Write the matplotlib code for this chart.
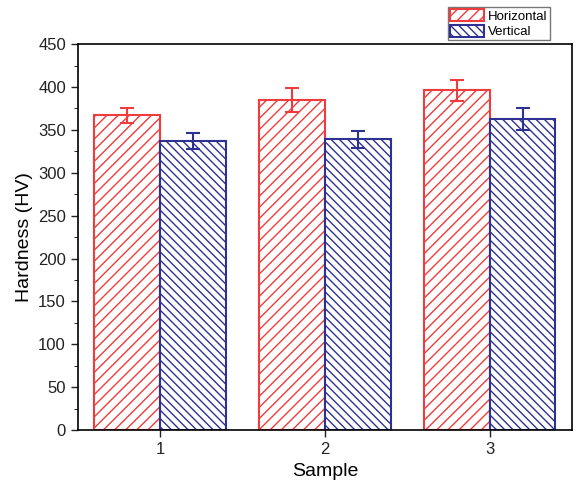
import numpy as np
import matplotlib
matplotlib.use("Agg")
import matplotlib.pyplot as plt

samples = ["1", "2", "3"]
horizontal = [367, 385, 396]
horizontal_err = [9, 14, 12]
vertical = [337, 339, 363]
vertical_err = [9, 10, 13]

plt.rcParams['font.family'] = ['Liberation Sans', 'DejaVu Sans']
plt.rcParams['hatch.linewidth'] = 1.0

fig = plt.figure(figsize=(5.76, 4.95), dpi=100)
ax = fig.add_axes([0.135, 0.131, 0.858, 0.78])

x = np.arange(1, len(samples) + 1)
w = 0.4
red = '#f03c3c'
blue = '#2e3192'

ax.bar(x - w / 2, horizontal, w, yerr=horizontal_err, facecolor='white', edgecolor=red,
       hatch='///', linewidth=1.5, label='Horizontal',
       error_kw=dict(ecolor=red, elinewidth=1.5, capsize=5, capthick=1.5))
ax.bar(x + w / 2, vertical, w, yerr=vertical_err, facecolor='white', edgecolor=blue,
       hatch='\\\\\\\\', linewidth=1.5, label='Vertical',
       error_kw=dict(ecolor=blue, elinewidth=1.5, capsize=5, capthick=1.5))

ax.set_xlim(0.5, 3.5)
ax.set_ylim(0, 450)
ax.set_xticks(x)
ax.set_xticklabels(samples)
ax.set_yticks(np.arange(0, 451, 50))
ax.set_yticks(np.arange(25, 451, 50), minor=True)
ax.tick_params(axis='both', labelsize=12, length=5, width=1, colors='#222222')
ax.tick_params(axis='y', which='minor', length=3)
for s in ax.spines.values():
    s.set_linewidth(1.2)

ax.set_xlabel('Sample', fontsize=14)
ax.set_ylabel('Hardness (HV)', fontsize=14)

ax.legend(loc='upper right', bbox_to_anchor=(0.955, 1.095), fontsize=9.5, frameon=True,
          fancybox=False, edgecolor='#555555', handlelength=2.6, handleheight=1.0,
          borderpad=0.15, labelspacing=0.15, handletextpad=0.3, borderaxespad=0)

fig.savefig('out.png', dpi=100)
